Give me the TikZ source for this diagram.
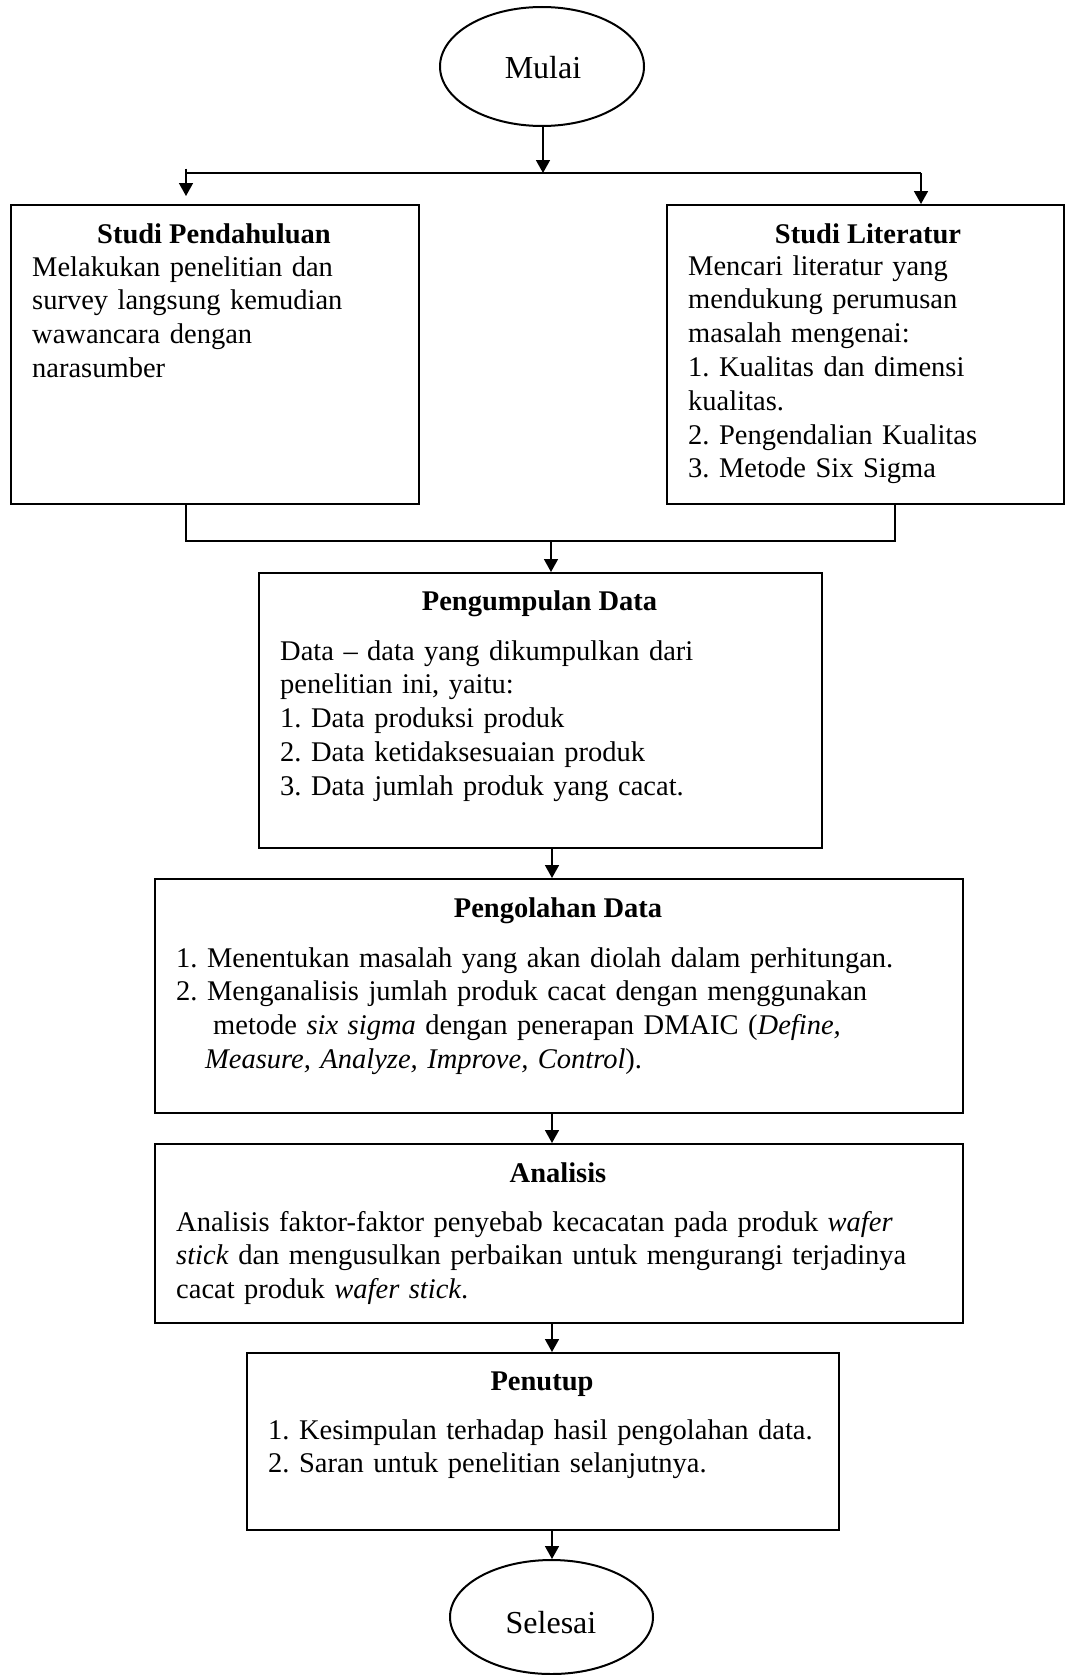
\documentclass[tikz,border=0pt]{standalone}
\usepackage{fontspec}
\setmainfont{Liberation Serif}
\usetikzlibrary{arrows.meta,shapes.geometric}
\frenchspacing
\begin{document}
\begin{tikzpicture}[x=1pt,y=-1pt,
  box/.style={draw,line width=2.4pt,inner sep=0pt,anchor=north west,rectangle},
  term/.style={draw,line width=2pt,ellipse,inner sep=0pt},
  conn/.style={line width=1.6pt},
  arr/.style={line width=1.6pt,-{Triangle[length=13pt,width=14pt]}},
  ttl/.style={font=\fontsize{28.5}{34}\selectfont\bfseries,inner sep=0pt,anchor=base},
  body/.style={font=\fontsize{28.5}{33.8}\selectfont,inner sep=0pt,anchor=base west,text width=820pt,align=left},
  lbl/.style={font=\fontsize{32}{38}\selectfont,inner sep=0pt,anchor=base}]
\useasboundingbox[fill=white] (0,0) rectangle (1065,1675);
\frenchspacing

% terminals
\node[term,minimum width=204pt,minimum height=119pt] (mulai) at (542,66.5) {};
\node[lbl] (mulaiT) at (543,79) {Mulai};
\node[term,minimum width=203pt,minimum height=114pt] (selesai) at (551.5,1617) {};
\node[lbl] (selesaiT) at (551,1633) {Selesai};

% boxes
\node[box,minimum width=408pt,minimum height=299pt] (sp) at (10,204) {};
\node[box,minimum width=397pt,minimum height=299pt] (sl) at (666,204) {};
\node[box,minimum width=563pt,minimum height=275pt] (pk) at (258,572) {};
\node[box,minimum width=808pt,minimum height=234pt] (po) at (154,878) {};
\node[box,minimum width=808pt,minimum height=179pt] (an) at (154,1143) {};
\node[box,minimum width=592pt,minimum height=177pt] (pn) at (246,1352) {};

% texts
\node[ttl] (spT) at (214,243) {Studi Pendahuluan};
\node[body] (spB) at (32,276) {Melakukan penelitian dan\\survey langsung kemudian\\wawancara dengan\\narasumber};

\node[ttl] (slT) at (868,243) {Studi Literatur};
\node[body] (slB) at (688,275) {Mencari literatur yang\\mendukung perumusan\\masalah mengenai:\\1. Kualitas dan dimensi\\kualitas.\\2. Pengendalian Kualitas\\3. Metode Six Sigma};

\node[ttl] (pkT) at (539.5,610) {Pengumpulan Data};
\node[body] (pkB) at (280,660) {Data -- data yang dikumpulkan dari\\penelitian ini, yaitu:\\1. Data produksi produk\\2. Data ketidaksesuaian produk\\3. Data jumlah produk yang cacat.};

\node[ttl] (poT) at (558,917) {Pengolahan Data};
\node[body] (poB) at (176,967) {1. Menentukan masalah yang akan diolah dalam perhitungan.\\2. Menganalisis jumlah produk cacat dengan menggunakan\\\hspace*{37pt}metode \textit{six sigma} dengan penerapan DMAIC (\textit{Define,}\\\hspace*{29pt}\textit{Measure, Analyze, Improve, Control}).};

\node[ttl] (anT) at (558,1182) {Analisis};
\node[body] (anB) at (176,1231) {Analisis faktor-faktor penyebab kecacatan pada produk \textit{wafer}\\\textit{stick} dan mengusulkan perbaikan untuk mengurangi terjadinya\\cacat produk \textit{wafer stick}.};

\node[ttl] (pnT) at (542,1390) {Penutup};
\node[body] (pnB) at (268,1439) {1. Kesimpulan terhadap hasil pengolahan data.\\2. Saran untuk penelitian selanjutnya.};

% connector coordinates
\coordinate (jl) at (186,173);
\coordinate (jlt) at (186,168.5);
\coordinate (jr) at (921,173);
\coordinate (jm) at (543,173);
\coordinate (sparr) at (186,196);
\coordinate (ml) at (186,541);
\coordinate (mr) at (895,541);
\coordinate (mm) at (551,541);
\coordinate (ax) at (552,0);

% connectors
\draw[arr] (mulai.south -| jm) -- (jm);
\draw[conn] (jl) -- (jr);
\draw[arr] (jlt) -- (sparr);
\draw[arr] (jr) -- (jr |- sl.north);
\draw[conn] (ml |- sp.south) -- (ml) -- (mr) -- (mr |- sl.south);
\draw[arr] (mm) -- (mm |- pk.north);
\draw[arr] (ax |- pk.south) -- (ax |- po.north);
\draw[arr] (ax |- po.south) -- (ax |- an.north);
\draw[arr] (ax |- an.south) -- (ax |- pn.north);
\draw[arr] (ax |- pn.south) -- (ax |- selesai.north);
\end{tikzpicture}
\end{document}
